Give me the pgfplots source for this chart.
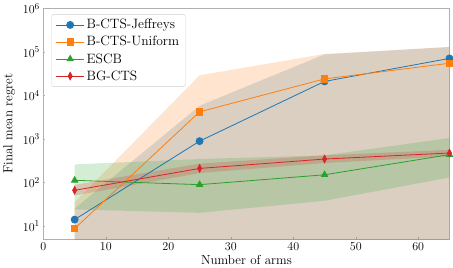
\documentclass[border=0pt]{standalone}
\usepackage{pgfplots}
\pgfplotsset{compat=1.18}
\definecolor{tblue}{HTML}{1F77B4}
\definecolor{torange}{HTML}{FF7F0E}
\definecolor{tgreen}{HTML}{2CA02C}
\definecolor{tred}{HTML}{D62728}
\definecolor{spine}{HTML}{B0B0B0}
\begin{document}
\begin{tikzpicture}
\begin{axis}[
  scale only axis,
  width=405pt, height=230pt,
  xmin=0, xmax=65, ymin=5, ymax=1e6,
  ymode=log,
  log basis y=10,
  xtick={0,10,20,30,40,50,60},
  ytick={1e1,1e2,1e3,1e4,1e5,1e6},
  axis line style={spine, line width=0.8pt},
  tick style={spine, line width=0.5pt},
  major tick length=2pt,
  minor tick length=1.5pt,
  tick align=inside,
  xtick pos=bottom, ytick pos=left,
  tick label style={font=\fontsize{13}{15}\selectfont},
  xlabel={Number of arms},
  ylabel={Final mean regret},
  label style={font=\fontsize{13}{15}\selectfont},
  xlabel style={yshift=2pt},
  ylabel style={yshift=1pt},
  legend cell align=left,
  legend style={font=\fontsize{13.5}{16}\selectfont, draw=spine!60, rounded corners=2pt, at={(0.02,0.975)}, anchor=north west, row sep=2pt, inner xsep=4pt, inner ysep=3pt},
  legend image code/.code={\draw[#1] (0pt,0pt) -- (28pt,0pt); \draw[#1, mark repeat=1] plot coordinates {(14pt,0pt)};},
]
% bands
\addplot[forget plot, draw=none, fill=tblue, fill opacity=0.2] coordinates {(5,25) (25,5800) (45,88000) (65,130000) (65,1) (45,1) (25,1) (5,1)};
\addplot[forget plot, draw=none, fill=torange, fill opacity=0.2] coordinates {(5,35) (25,29000) (45,90000) (65,130000) (65,1) (45,1) (25,1) (5,1)};
\addplot[forget plot, draw=none, fill=tgreen, fill opacity=0.2] coordinates {(5,260) (25,345) (45,420) (65,1050) (65,130) (45,38) (25,20) (5,24)};
\addplot[forget plot, draw=none, fill=tred, fill opacity=0.2] coordinates {(5,88) (25,270) (45,420) (65,560) (65,400) (45,280) (25,165) (5,50)};
% lines
\addplot[tblue, line width=0.8pt, mark=*, mark size=3.5pt] coordinates {(5,14) (25,890) (45,21000) (65,71000)};
\addlegendentry{B-CTS-Jeffreys}
\addplot[torange, line width=0.8pt, mark=square*, mark size=3.2pt] coordinates {(5,8.7) (25,4200) (45,24000) (65,55000)};
\addlegendentry{B-CTS-Uniform}
\addplot[tgreen, line width=0.8pt, mark=triangle*, mark size=3.6pt] coordinates {(5,112) (25,89) (45,150) (65,436)};
\addlegendentry{ESCB}
\addplot[tred, line width=0.8pt, mark=diamond*, mark size=3.8pt, mark options={xscale=0.7}] coordinates {(5,66) (25,210) (45,345) (65,475)};
\addlegendentry{BG-CTS}
\end{axis}
\end{tikzpicture}
\end{document}
